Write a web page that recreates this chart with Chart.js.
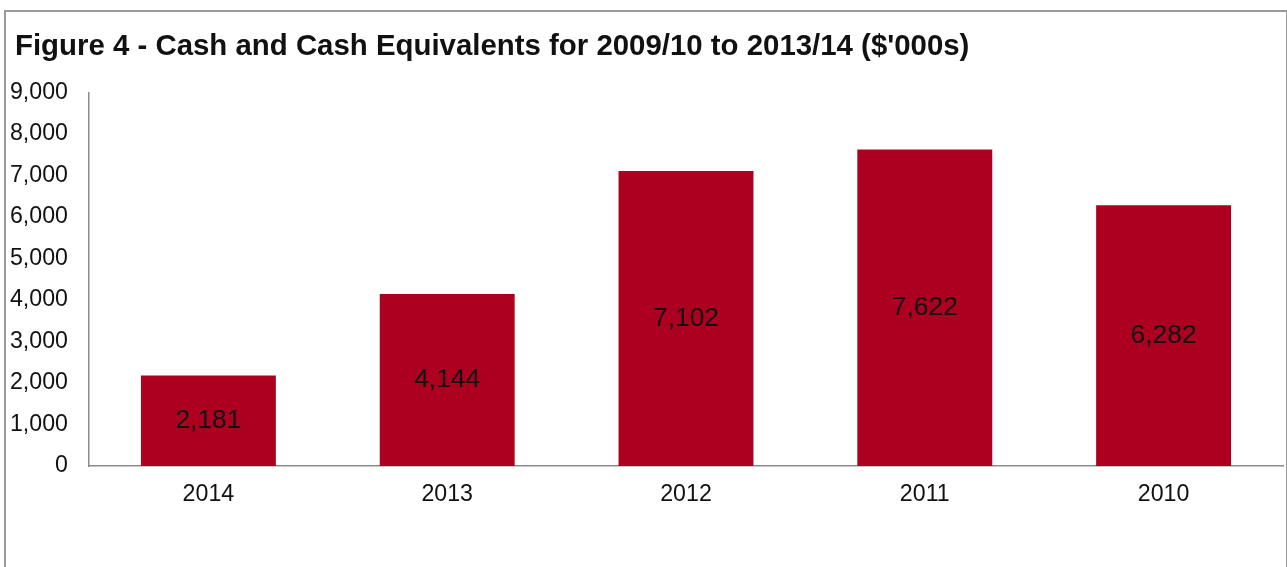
<!DOCTYPE html>
<html>
<head>
<meta charset="utf-8">
<script src="https://cdn.jsdelivr.net/npm/chart.js@4"></script>
<style>
  html, body { margin: 0; padding: 0; background: #fff; }
  #frame {
    position: absolute; left: 4px; top: 10px; width: 1280px; height: 570px;
    border: 2px solid #9a9a9a; border-bottom: none;
  }
  #wrap { position: absolute; left: 0; top: 0; width: 1287px; height: 567px; }
</style>
</head>
<body>
<div id="frame"></div>
<div id="wrap"><canvas id="cashChart"></canvas></div>
<script>
// figure 4 - cash and cash equivalents

const years = ['2014', '2013', '2012', '2011', '2010'];
const cashValues = [2181, 4144, 7102, 7622, 6282];
const yMax = 9000;
const yStep = 1000;

const barColor = '#ad0020';
const fontFamily = '"Liberation Sans", Arial, sans-serif';

// labels in the middle of each bar
const barLabels = {
    id: 'barLabels',
    afterDatasetsDraw(chart) {
        const ctx = chart.ctx;
        const meta = chart.getDatasetMeta(0);
        ctx.save();
        ctx.font = '26.4px ' + fontFamily;
        ctx.fillStyle = '#111';
        ctx.textAlign = 'center';
        ctx.textBaseline = 'middle';
        meta.data.forEach((bar, i) => {
            const v = chart.data.datasets[0].data[i];
            ctx.fillText(v.toLocaleString('en-US'), bar.x, (bar.y + bar.base) / 2);
        });
        ctx.restore();
    }
};

// title sits a little to the right of the tick labels
const titleShift = {
    id: 'titleShift',
    afterLayout(chart) {
        if (chart.titleBlock) chart.titleBlock.left = 15;
    }
};

function initializeChart() {
    const ctx = document.getElementById('cashChart').getContext('2d');

    new Chart(ctx, {
        type: 'bar',
        data: {
            labels: years,
            datasets: [{
                data: cashValues,
                backgroundColor: barColor,
                borderWidth: 0,
                categoryPercentage: 1,
                barPercentage: 0.565
            }]
        },
        options: {
            responsive: true,
            maintainAspectRatio: false,
            animation: false,
            layout: {
                padding: { left: 7, right: 4, top: 0, bottom: 0 }
            },
            plugins: {
                legend: { display: false },
                tooltip: { enabled: false },
                title: {
                    display: true,
                    text: "Figure 4 - Cash and Cash Equivalents for 2009/10 to 2013/14 ($'000s)",
                    align: 'start',
                    color: '#111',
                    font: { family: fontFamily, size: 29.4, weight: 'bold' },
                    padding: { top: 29, bottom: 28 }
                }
            },
            scales: {
                x: {
                    grid: { display: false, drawTicks: false },
                    border: { color: '#8c8c8c', width: 1.5 },
                    ticks: {
                        color: '#111',
                        font: { family: fontFamily, size: 23.2 },
                        padding: 15
                    },
                    afterFit(scale) { scale.height = 101; }
                },
                y: {
                    min: 0,
                    max: yMax,
                    grid: { display: false, drawTicks: false },
                    border: { color: '#8c8c8c', width: 1.5 },
                    ticks: {
                        stepSize: yStep,
                        color: '#111',
                        font: { family: fontFamily, size: 23.2 },
                        padding: 21,
                        callback: v => v.toLocaleString('en-US')
                    },
                    afterFit(scale) { scale.width = 82; }
                }
            }
        },
        plugins: [barLabels, titleShift]
    });
}

document.addEventListener('DOMContentLoaded', initializeChart);
</script>
</body>
</html>
